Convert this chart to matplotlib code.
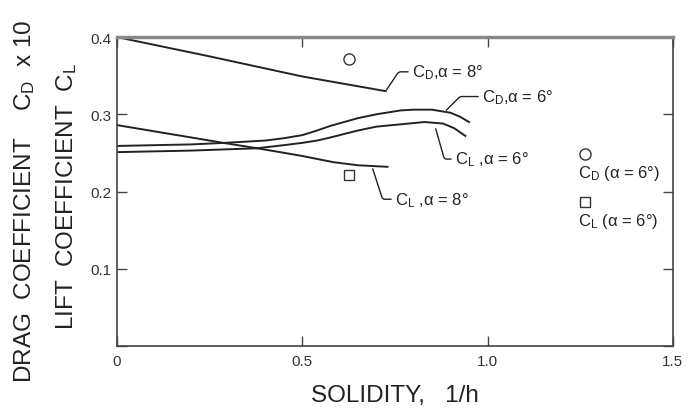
import matplotlib
matplotlib.use("Agg")
import matplotlib.pyplot as plt

plt.rcParams['font.family'] = ['Liberation Sans', 'DejaVu Sans']
plt.rcParams['mathtext.fontset'] = 'custom'
plt.rcParams['mathtext.rm'] = 'Liberation Sans'
plt.rcParams['mathtext.it'] = 'Liberation Sans'

# curves (solidity, coefficient)
cd8_x = [0.0, 0.25, 0.5, 0.725]
cd8_y = [0.400, 0.375, 0.349, 0.330]

cd6_x = [0.0, 0.1, 0.2, 0.29, 0.4, 0.45, 0.5, 0.54, 0.576, 0.65, 0.7, 0.765, 0.8, 0.85, 0.9, 0.925, 0.95]
cd6_y = [0.259, 0.260, 0.261, 0.263, 0.266, 0.269, 0.273, 0.279, 0.285, 0.295, 0.300, 0.305, 0.306, 0.306, 0.302, 0.297, 0.290]

cl6_x = [0.0, 0.2, 0.378, 0.45, 0.5, 0.54, 0.576, 0.65, 0.7, 0.765, 0.83, 0.88, 0.91, 0.94]
cl6_y = [0.251, 0.253, 0.256, 0.260, 0.263, 0.266, 0.270, 0.279, 0.284, 0.287, 0.290, 0.288, 0.282, 0.272]

cl8_x = [0.0, 0.1, 0.2, 0.287, 0.378, 0.44, 0.5, 0.584, 0.65, 0.73]
cl8_y = [0.286, 0.278, 0.270, 0.263, 0.256, 0.251, 0.246, 0.238, 0.234, 0.232]

# single test points
cd_point = (0.627, 0.371)
cl_point = (0.627, 0.222)

fig = plt.figure(figsize=(6.88, 4.14), dpi=100)
ax = fig.add_axes([0.170, 0.162, 0.808, 0.746])

for xs, ys in [(cd8_x, cd8_y), (cd6_x, cd6_y), (cl6_x, cl6_y), (cl8_x, cl8_y)]:
    ax.plot(xs, ys, color='#222222', lw=1.4)

ax.plot(*cd_point, marker='o', ms=8, mfc='white', mec='#333333', mew=1.0)
ax.plot(*cl_point, marker='s', ms=7, mfc='white', mec='#333333', mew=1.0)

# curve labels with leader lines
labels = [
    (r"C$_\mathrm{D}$,α = 8°", (0.725, 0.330), (0.797, 0.355), 56),
    (r"C$_\mathrm{D}$,α = 6°", (0.886, 0.304), (0.986, 0.323), 45),
    (r"C$_\mathrm{L}$ ,α = 6°", (0.859, 0.283), (0.913, 0.242), -74),
    (r"C$_\mathrm{L}$ ,α = 8°", (0.689, 0.231), (0.751, 0.190), -72),
]
for txt, xy, xyt, ang in labels:
    ax.annotate(txt, xy=xy, xytext=xyt, fontsize=12, va='center', ha='left',
                color='#222222',
                arrowprops=dict(arrowstyle='-', color='#222222', lw=1.0,
                                shrinkA=1, shrinkB=1, relpos=(0, 0.5),
                                connectionstyle=f"angle,angleA=0,angleB={ang},rad=2"))

# key on the right
ax.plot(1.262, 0.248, marker='o', ms=8, mfc='white', mec='#333333', mew=1.0, clip_on=False)
ax.text(1.243, 0.224, r"C$_\mathrm{D}$ (α = 6°)", fontsize=12, va='center', ha='left', color='#222222')
ax.plot(1.262, 0.187, marker='s', ms=7, mfc='white', mec='#333333', mew=1.0, clip_on=False)
ax.text(1.243, 0.163, r"C$_\mathrm{L}$ (α = 6°)", fontsize=12, va='center', ha='left', color='#222222')

ax.set_xlim(0, 1.5)
ax.set_ylim(0, 0.4)
ax.set_xticks([0, 0.5, 1.0, 1.5])
ax.set_xticklabels(['0', '0.5', '1.0', '1.5'])
ax.set_yticks([0, 0.1, 0.2, 0.3, 0.4])
ax.set_yticklabels(['', '0.1', '0.2', '0.3', '0.4'])
ax.tick_params(direction='in', length=7, width=1, colors='#444444', labelsize=11,
               top=True, right=True, labelcolor='#333333')
ax.tick_params(axis='x', pad=6)
ax.tick_params(axis='y', pad=4)

for s in ['left', 'bottom', 'right']:
    ax.spines[s].set_color('#444444')
    ax.spines[s].set_linewidth(1.2)
ax.spines['top'].set_color('#888888')
ax.spines['top'].set_linewidth(2.5)

ax.set_xlabel("SOLIDITY,   1/h", fontsize=17.5, color='#222222', labelpad=11)
fig.text(0.035, 0.514, r"DRAG  COEFFICIENT    C$_\mathrm{D}$  x 10", rotation=90,
         fontsize=17.5, color='#222222', va='center', ha='center')
fig.text(0.097, 0.526, r"LIFT  COEFFICIENT  C$_\mathrm{L}$", rotation=90,
         fontsize=17.5, color='#222222', va='center', ha='center')

fig.savefig("out.png", dpi=100)
